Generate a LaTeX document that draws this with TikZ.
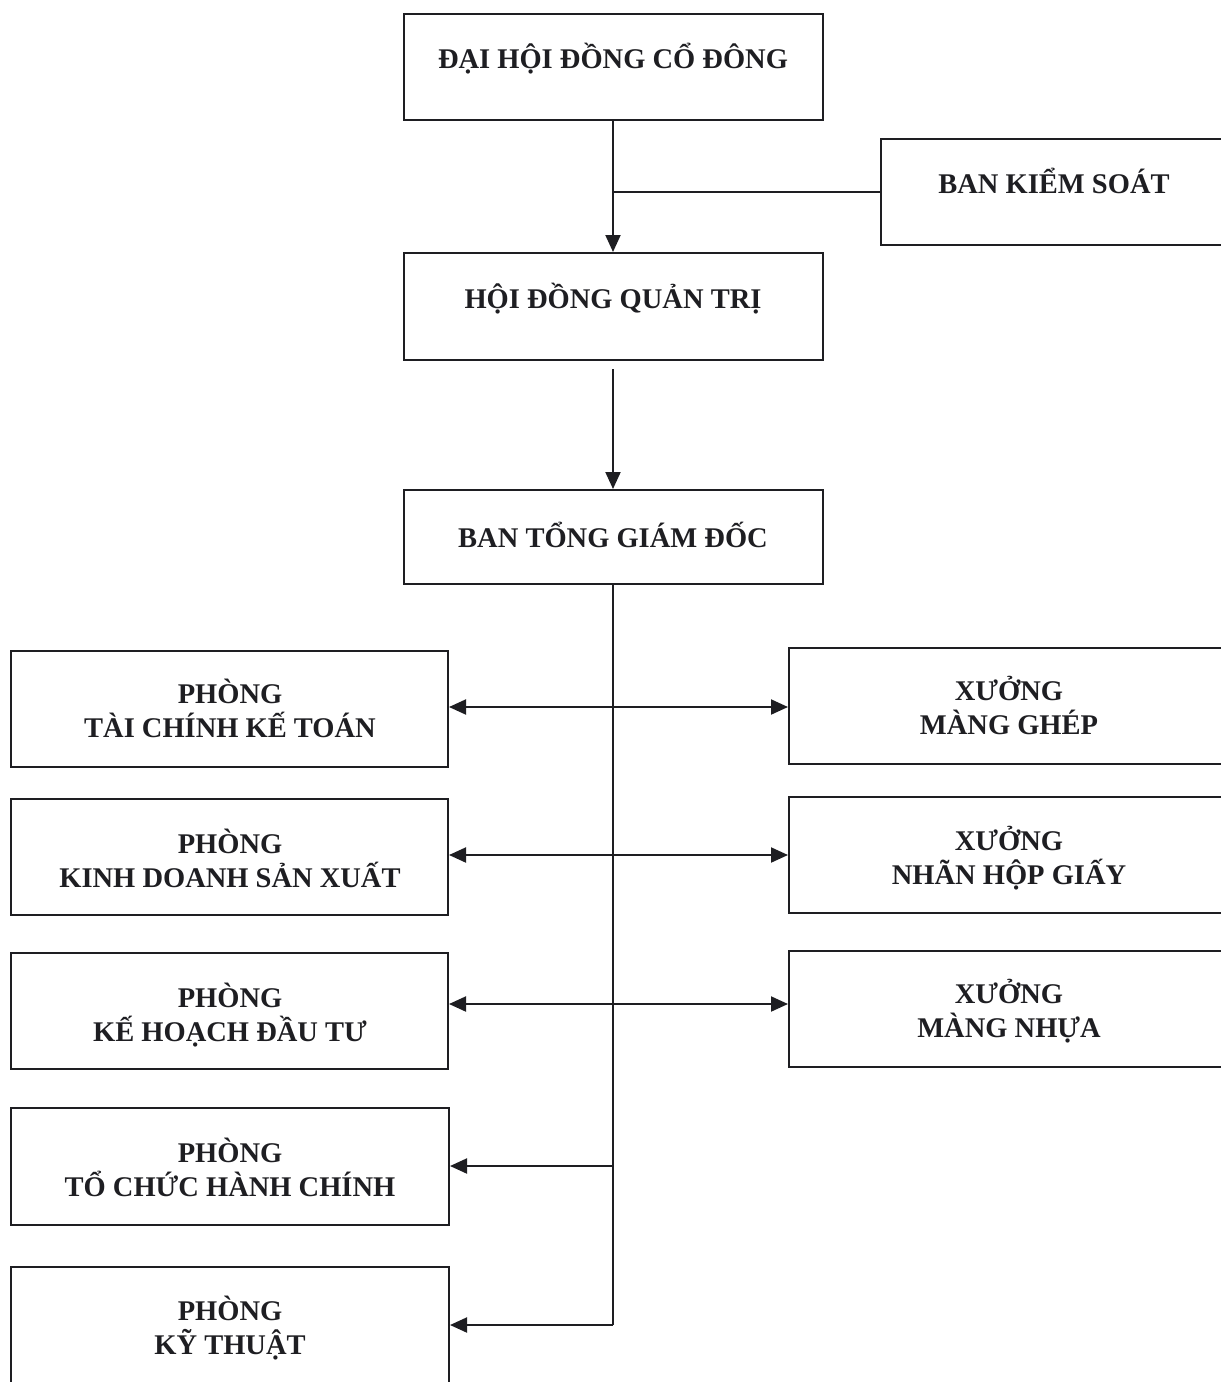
\documentclass[tikz,border=0pt]{standalone}
\usepackage{fontspec}
\setmainfont{Liberation Serif}
\usetikzlibrary{arrows.meta}
\definecolor{ink}{HTML}{1E1E22}
\tikzset{
  box/.style={draw=ink, line width=2pt, rectangle, inner sep=0pt},
  lbl/.style={anchor=base, inner sep=0pt, text=ink, font=\bfseries\fontsize{28.5}{34}\selectfont},
  conn/.style={draw=ink, line width=2pt},
  tip/.style={conn, -{Triangle[length=17pt,width=15pt]}},
  tips/.style={conn, {Triangle[length=17pt,width=15pt]}-{Triangle[length=17pt,width=15pt]}}
}
\begin{document}
\begin{tikzpicture}[x=1pt,y=-1pt]
\useasboundingbox (0,0) rectangle (1221,1382);
\clip (0,0) rectangle (1221,1382);
% boxes
\node[box, minimum width=419pt, minimum height=106pt] (dhd) at (613.5,67) {};
\node[box, minimum width=346pt, minimum height=106pt] (bks) at (1054,192) {};
\node[box, minimum width=419pt, minimum height=107pt] (hdqt) at (613.5,306.5) {};
\node[box, minimum width=419pt, minimum height=94pt] (btgd) at (613.5,537) {};
\node[box, minimum width=437pt, minimum height=116pt] (p1) at (229.5,709) {};
\node[box, minimum width=437pt, minimum height=116pt] (p2) at (229.5,857) {};
\node[box, minimum width=437pt, minimum height=116pt] (p3) at (229.5,1011) {};
\node[box, minimum width=438pt, minimum height=117pt] (p4) at (230,1166.5) {};
\node[box, minimum width=438pt, minimum height=116pt] (p5) at (230,1325) {};
\node[box, minimum width=440pt, minimum height=116pt] (x1) at (1009,706) {};
\node[box, minimum width=440pt, minimum height=116pt] (x2) at (1009,855) {};
\node[box, minimum width=440pt, minimum height=116pt] (x3) at (1009,1009) {};
% texts
\node[lbl] (tdhd) at (613,68) {ĐẠI HỘI ĐỒNG CỔ ĐÔNG};
\node[lbl] (tbks) at (1054,193) {BAN KIỂM SOÁT};
\node[lbl] (thdqt) at (613,308) {HỘI ĐỒNG QUẢN TRỊ};
\node[lbl] (tbtgd) at (613,547) {BAN TỔNG GIÁM ĐỐC};
\node[lbl] (tp1a) at (230,703) {PHÒNG};
\node[lbl] (tp1b) at (230,737) {TÀI CHÍNH KẾ TOÁN};
\node[lbl] (tp2a) at (230,853) {PHÒNG};
\node[lbl] (tp2b) at (230,887) {KINH DOANH SẢN XUẤT};
\node[lbl] (tp3a) at (230,1007) {PHÒNG};
\node[lbl] (tp3b) at (230,1041) {KẾ HOẠCH ĐẦU TƯ};
\node[lbl] (tp4a) at (230,1162) {PHÒNG};
\node[lbl] (tp4b) at (230,1196) {TỔ CHỨC HÀNH CHÍNH};
\node[lbl] (tp5a) at (230,1320) {PHÒNG};
\node[lbl] (tp5b) at (230,1354) {KỸ THUẬT};
\node[lbl] (tx1a) at (1009,700) {XƯỞNG};
\node[lbl] (tx1b) at (1009,734) {MÀNG GHÉP};
\node[lbl] (tx2a) at (1009,850) {XƯỞNG};
\node[lbl] (tx2b) at (1009,884) {NHÃN HỘP GIẤY};
\node[lbl] (tx3a) at (1009,1003) {XƯỞNG};
\node[lbl] (tx3b) at (1009,1037) {MÀNG NHỰA};
% connectors
\coordinate (j0) at (613,192);
\coordinate (t1) at (613,707);
\coordinate (t2) at (613,855);
\coordinate (t3) at (613,1004);
\coordinate (t4) at (613,1166);
\coordinate (t5) at (613,1325);
\draw[tip] (dhd.south -| j0) -- (hdqt.north -| j0);
\draw[conn] (bks.west) -- (j0);
\draw[tip] ([yshift=-8pt]hdqt.south -| j0) -- (btgd.north -| j0);
\draw[conn] (btgd.south -| j0) -- (t5);
\draw[tips] (t1 -| p1.east) -- (t1 -| x1.west);
\draw[tips] (t2 -| p2.east) -- (t2 -| x2.west);
\draw[tips] (t3 -| p3.east) -- (t3 -| x3.west);
\draw[tip] (t4) -- (t4 -| p4.east);
\draw[tip] (t5) -- (t5 -| p5.east);
\end{tikzpicture}
\end{document}
